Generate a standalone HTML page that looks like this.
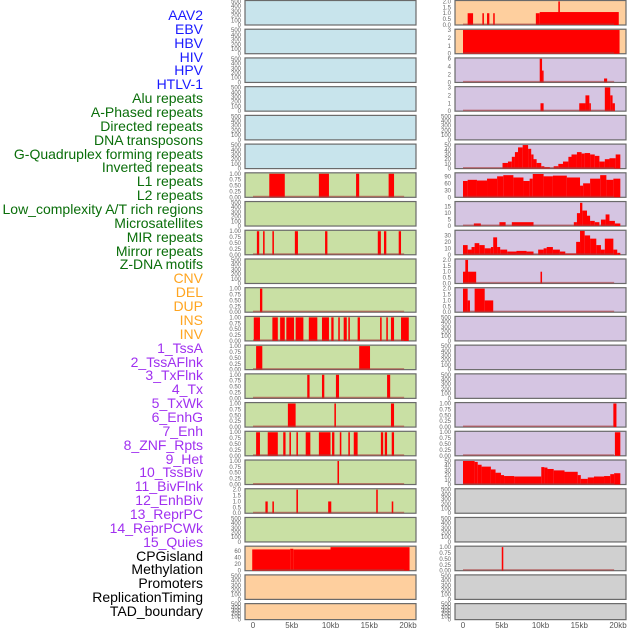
<!DOCTYPE html>
<html><head><meta charset="utf-8">
<style>
html,body{margin:0;padding:0;background:#fff;}
#wrap{position:relative;width:630px;height:630px;overflow:hidden;font-family:"Liberation Sans",sans-serif;}
.lbl{position:absolute;right:427px;font-size:14px;line-height:14px;white-space:nowrap;text-align:right;}
</style></head>
<body>
<div id="wrap">
<svg id="chart" width="630" height="630" style="position:absolute;left:0;top:0"></svg>
</div>
<script>
// ---- labels ----
const trackNames = ["AAV2","EBV","HBV","HIV","HPV","HTLV-1","Alu repeats","A-Phased repeats","Directed repeats","DNA transposons","G-Quadruplex forming repeats","Inverted repeats","L1 repeats","L2 repeats","Low_complexity A/T rich regions","Microsatellites","MIR repeats","Mirror repeats","Z-DNA motifs","CNV","DEL","DUP","INS","INV","1_TssA","2_TssAFlnk","3_TxFlnk","4_Tx","5_TxWk","6_EnhG","7_Enh","8_ZNF_Rpts","9_Het","10_TssBiv","11_BivFlnk","12_EnhBiv","13_ReprPC","14_ReprPCWk","15_Quies","CPGisland","Methylation","Promoters","ReplicationTiming","TAD_boundary"];
const trackGroups = [0,0,0,0,0,0,1,1,1,1,1,1,1,1,1,1,1,1,1,2,2,2,2,2,3,3,3,3,3,3,3,3,3,3,3,3,3,3,3,4,4,4,4,4];
const groupColors = ["#1a1aff","#0a6e0a","#ffa520","#a030f0","#000000"];

// ---- x axis ----
const xTicks = [0,5,10,15,20];
const xTickLabels = ["0","5kb","10kb","15kb","20kb"];

// ---- left column panel data: [startKb,endKb,value] ----
const L_empty = [];
const L_L1 = [[2.1,4.1,1],[8.5,9.8,1],[13.3,13.7,1],[17.5,18.2,1]];
const L_MIR = [[0.5,0.8,1],[1.3,1.5,1],[2.5,2.7,1],[5.4,5.8,1],[9.3,9.6,1],[16.1,16.5,1],[16.9,17.2,1],[18.8,19.1,1]];
const L_DEL = [[0.9,1.2,1]];
const L_INS = [[0.1,0.9,1],[2.5,3.2,1],[3.5,4.1,1],[4.3,5.3,1],[5.5,6.5,1],[7.2,8.3,1],[8.9,9.8,1],[10.1,10.4,1],[11.0,11.2,1],[11.7,12.1,1],[12.3,12.5,1],[13.5,13.8,1],[16.4,16.6,1],[17.2,17.4,1],[17.8,18.2,1],[19.1,20.1,1]];
const L_TssA = [[0.4,1.2,1],[13.7,15.1,1]];
const L_TxFlnk = [[7.0,7.3,1],[8.9,9.2,1],[10.7,11.1,1],[17.3,17.7,1]];
const L_Tx = [[4.5,5.5,1],[10.5,10.7,1],[17.8,18.2,1]];
const L_TxWk = [[0.4,0.9,1],[1.9,3.2,1],[3.9,4.2,1],[4.7,4.9,1],[5.6,5.8,1],[6.8,7.4,1],[8.5,10.0,1],[10.2,10.5,1],[11.2,11.4,1],[12.3,12.5,1],[13.0,13.5,1],[16.5,16.8,1],[17.0,17.3,1],[17.9,18.2,1]];
const L_EnhG = [[10.9,11.1,1]];
const L_Enh = [[1.6,1.9,1],[2.5,2.7,1],[5.6,5.8,2],[9.7,10.1,1],[15.9,16.1,2],[17.9,18.1,1]];
const L_Quies = [[-0.1,4.8,65],[4.8,5.2,67],[5.2,10.0,65],[10.0,20.2,72]];

// ---- right column panel data ----
const R_AAV2 = [[0.6,1.3,1],[2.5,2.7,1],[3.1,3.4,1],[3.9,4.0,1],[9.4,9.9,1],[9.9,20.1,1.1],[12.3,12.5,2]];
const R_EBV = [[0.0,20.2,3]];
const R_HIV = [[9.9,10.2,6],[10.2,10.4,3],[18.2,18.6,1]];
const R_HPV = [[10.0,10.4,1],[15.0,15.8,1],[15.8,16.3,2],[16.3,16.5,1],[18.3,19.0,3],[19.0,19.3,2],[19.3,19.6,1]];
const R_Alu = [[5.1,5.8,12],[5.8,6.3,15],[6.3,6.7,25],[6.7,7.1,35],[7.1,7.7,45],[7.7,8.4,50],[8.4,8.8,42],[8.8,9.1,30],[9.1,9.5,20],[9.5,10.1,12],[10.1,10.5,5],[10.5,11.2,3],[11.7,12.3,5],[12.3,12.9,10],[12.9,13.6,15],[13.6,14.0,25],[14.0,14.7,30],[14.7,15.3,35],[15.3,15.7,32],[15.7,16.4,33],[16.4,17.0,30],[17.0,17.6,27],[17.6,18.3,15],[18.3,18.9,20],[18.9,19.7,22],[19.7,20.3,30]];
const R_Aphased = [[0,0.6,70],[0.6,1.8,75],[1.8,3.1,72],[3.1,4.4,80],[4.4,5.2,90],[5.2,6.5,95],[6.5,7.8,85],[7.8,8.6,70],[8.6,9.0,80],[9.0,10.4,100],[10.4,11.6,90],[11.6,13.4,93],[13.4,15.1,85],[15.1,15.5,50],[15.5,16.4,60],[16.4,17.7,80],[17.7,18.5,95],[18.5,19.4,75],[19.4,20.3,80]];
const R_Directed = [[1.4,2.3,2],[4.7,5.5,3],[6.3,9.1,3],[14.3,14.7,3],[14.7,15.1,10],[15.1,15.4,18],[15.4,16.0,12],[16.0,16.4,8],[16.4,17.0,4],[17.0,17.6,3],[17.8,18.4,5],[18.4,18.9,9],[18.9,19.6,4],[19.6,20.3,2]];
const R_DNAtrans = [[0,0.6,15],[0.6,1.1,8],[1.1,1.5,12],[1.5,2.1,18],[2.1,2.8,15],[2.8,3.6,10],[3.6,3.9,12],[3.9,4.4,27],[4.4,4.8,12],[4.8,5.7,8],[5.7,6.9,5],[6.9,8.2,6],[8.2,9.1,5],[9.7,10.4,8],[10.4,10.8,10],[10.8,11.6,12],[11.6,12.5,8],[12.5,13.2,5],[13.2,14.6,2],[14.6,15.1,20],[15.1,15.7,37],[15.7,16.4,30],[16.4,17.2,25],[17.2,17.8,15],[17.8,18.3,8],[18.3,19.4,25],[19.4,19.9,8],[19.9,20.3,3]];
const R_Inverted = [[0,0.6,1],[0.3,0.65,2],[0.65,1.7,1],[10.0,10.2,1]];
const R_L1 = [[0,0.6,2],[0.6,0.9,1],[1.5,2.8,2],[2.8,3.9,1]];
const R_Microsat = [[19.4,19.8,1]];
const R_MIR = [[19.6,20.3,1]];
const R_Zdna = [[0,1.5,50],[1.5,1.9,48],[1.9,2.4,42],[2.4,3.6,38],[3.6,4.2,32],[4.2,4.9,25],[4.9,5.3,20],[5.3,6.6,18],[6.6,10.1,17],[10.1,10.5,37],[10.5,10.9,36],[10.9,11.7,33],[11.7,13.1,30],[13.1,14.8,27],[14.8,15.2,20],[15.2,16.1,12],[16.1,16.9,15],[16.9,18.2,17],[18.2,19.0,18],[19.0,19.5,22],[19.5,20.3,24]];
const R_Methyl = [[5.0,5.2,1]];

// ---- panel definitions ----
const T500 = [0,100,200,300,400,500];
const T1 = [0,0.25,0.5,0.75,1];
const T2 = [0,0.5,1,1.5,2];
const BLUE="#c8e4ec", GREEN="#c9e0a4", ORANGE="#fecf9e", PURPLE="#d5c5e2", GRAY="#d0d0d0";
const leftPanels = [
 [BLUE,T500,520,L_empty],[BLUE,T500,520,L_empty],[BLUE,T500,520,L_empty],[BLUE,T500,520,L_empty],[BLUE,T500,520,L_empty],[BLUE,T500,520,L_empty],
 [GREEN,T1,1.04,L_L1],[GREEN,T500,520,L_empty],[GREEN,T1,1.04,L_MIR],[GREEN,T500,520,L_empty],[GREEN,T1,1.04,L_DEL],[GREEN,T1,1.04,L_INS],
 [GREEN,T1,1.04,L_TssA],[GREEN,T1,1.04,L_TxFlnk],[GREEN,T1,1.04,L_Tx],[GREEN,T1,1.04,L_TxWk],[GREEN,T1,1.04,L_EnhG],[GREEN,T2,2.08,L_Enh],[GREEN,T500,520,L_empty],
 [ORANGE,[0,20,40,60],75,L_Quies],[ORANGE,T500,520,L_empty],[ORANGE,T500,520,L_empty]
];
const rightPanels = [
 [ORANGE,T2,2.08,R_AAV2],[ORANGE,[0,1,2,3],3.1,R_EBV],[PURPLE,[0,2,4,6],6.2,R_HIV],[PURPLE,[0,1,2,3],3.1,R_HPV],[PURPLE,T500,520,L_empty],
 [PURPLE,[0,10,20,30,40,50],52,R_Alu],[PURPLE,[0,30,60,90],105,R_Aphased],[PURPLE,[0,5,10,15],19,R_Directed],[PURPLE,[0,10,20,30],38,R_DNAtrans],
 [PURPLE,T2,2.08,R_Inverted],[PURPLE,T2,2.08,R_L1],[PURPLE,T500,520,L_empty],[PURPLE,T500,520,L_empty],[PURPLE,T500,520,L_empty],
 [PURPLE,T1,1.04,R_Microsat],[PURPLE,T1,1.04,R_MIR],[PURPLE,[0,10,20,30,40,50],52,R_Zdna],
 [GRAY,T500,520,L_empty],[GRAY,T500,520,L_empty],[GRAY,T1,1.04,R_Methyl],[GRAY,T500,520,L_empty],[GRAY,T500,520,L_empty]
];

const NS="http://www.w3.org/2000/svg";
const svg=document.getElementById('chart');
function mk(tag,attrs,parent){const e=document.createElementNS(NS,tag);for(const k in attrs)e.setAttribute(k,attrs[k]);(parent||svg).appendChild(e);return e;}

// labels
const wrap=document.getElementById('wrap');
trackNames.forEach((n,i)=>{
  const d=document.createElement('div');
  d.className='lbl';
  d.textContent=n;
  d.style.top=(8+i*13.86)+'px';
  d.style.color=groupColors[trackGroups[i]];
  
  
  wrap.appendChild(d);
});

function fmt(t,ticks){
  const mx=Math.max(...ticks);
  if(mx<=1.0001) return t.toFixed(2);
  if(mx<=2.0001 && ticks.length===5) return t.toFixed(1);
  return String(t);
}

function drawColumn(panels,left,zeroPx,colName){
  const W=171, pxPerKb=7.75;
  const xs=kb=>zeroPx+kb*pxPerKb;
  panels.forEach((p,i)=>{
    const [bg,ticks,ymax,data]=p;
    const top=i*28.72+0.5;
    const h = i===panels.length-1 ? 16 : 24.5;
    const g=mk('g',{});
    
    
    const r=mk('rect',{x:left,y:top,width:W,height:h,fill:bg,stroke:'#6a6a6a','stroke-width':1.2},g);
    
    
    const ys=v=>top+h-(v/ymax)*h;
    data.forEach(d=>{
      const x0=Math.max(xs(d[0]),left), x1=Math.min(xs(d[1]),left+W);
      const b=mk('rect',{x:x0,y:ys(d[2]),width:Math.max(x1-x0,1.5),height:top+h-ys(d[2]),fill:'#ff0000'},g);
      
      
    });
    if(data.length){
      const bl=mk('line',{x1:xs(0),x2:xs(19.5),y1:top+h-0.8,y2:top+h-0.8,stroke:'rgba(170,60,60,0.6)','stroke-width':1.5},g);
      
      
    }
    ticks.forEach(t=>{
      const tx=mk('text',{x:left-4,y:ys(t)+2,'font-size':6,fill:'#666','text-anchor':'end','font-family':'Liberation Sans, sans-serif'},g);
      tx.textContent=fmt(t,ticks);
      
      
    });
  });
  xTicks.forEach((t,j)=>{
    const tx=mk('text',{x:xs(t),y:628,'font-size':8,fill:'#555','text-anchor':'middle','font-family':'Liberation Sans, sans-serif'});
    tx.textContent=xTickLabels[j];
    
    
  });
}
drawColumn(leftPanels,245,253,'left');
drawColumn(rightPanels,455,463,'right');
</script>
</body></html>
